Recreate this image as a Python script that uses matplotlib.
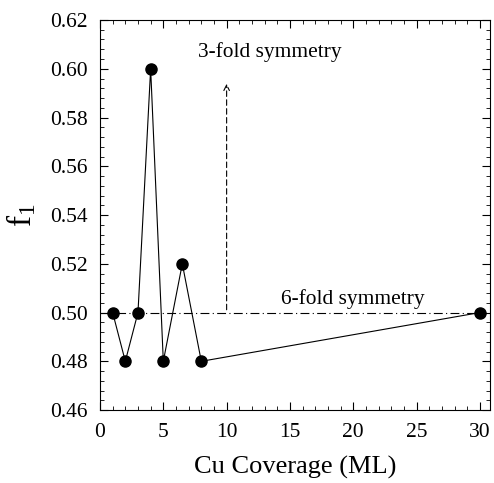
import matplotlib
matplotlib.use("Agg")
import matplotlib.pyplot as plt
from matplotlib.ticker import MultipleLocator

coverage = [1, 2, 3, 4, 5, 6.5, 8, 30]
f1 = [0.50, 0.48, 0.50, 0.60, 0.48, 0.52, 0.48, 0.50]

plt.rcParams['font.family'] = ['Liberation Serif', 'DejaVu Serif']
plt.rcParams['mathtext.fontset'] = 'stix'

fig = plt.figure(figsize=(4.94, 4.83), dpi=100)
ax = fig.add_axes([0.2024, 0.151, 0.7896, 0.8076])

ax.plot([0, 30], [0.50, 0.50], color='black', lw=0.8, dashes=(8, 3, 1, 3))
ax.annotate('', xy=(10, 0.595), xytext=(10, 0.50),
            arrowprops=dict(arrowstyle='->', color='black', lw=0.8, linestyle=(0, (5, 3))))
ax.plot(coverage, f1, color='black', lw=0.8, marker='o', markersize=8)

ax.text(7.7, 0.607, '3-fold symmetry', fontsize=15.4, va='center', ha='left')
ax.text(14.3, 0.5055, '6-fold symmetry', fontsize=15.4, va='center', ha='left')

ax.set_xlim(0, 30.8)
ax.set_ylim(0.46, 0.62)
ax.xaxis.set_major_locator(MultipleLocator(5))
ax.xaxis.set_minor_locator(MultipleLocator(1))
ax.yaxis.set_major_locator(MultipleLocator(0.02))
ax.yaxis.set_minor_locator(MultipleLocator(0.004))
ax.set_yticklabels([f'{v:.2f}' for v in ax.get_yticks()])
ax.tick_params(which='both', direction='in', top=True, right=True, labelsize=15.5, pad=9)
ax.tick_params(which='major', length=6, width=0.8)
ax.tick_params(which='minor', length=3, width=0.6)
for s in ax.spines.values():
    s.set_linewidth(0.8)

ax.set_xlabel('Cu Coverage (ML)', fontsize=19, labelpad=10)
ax.set_ylabel('$\\mathregular{f_1}$', fontsize=24, labelpad=8)

fig.savefig('out.png', dpi=100)
